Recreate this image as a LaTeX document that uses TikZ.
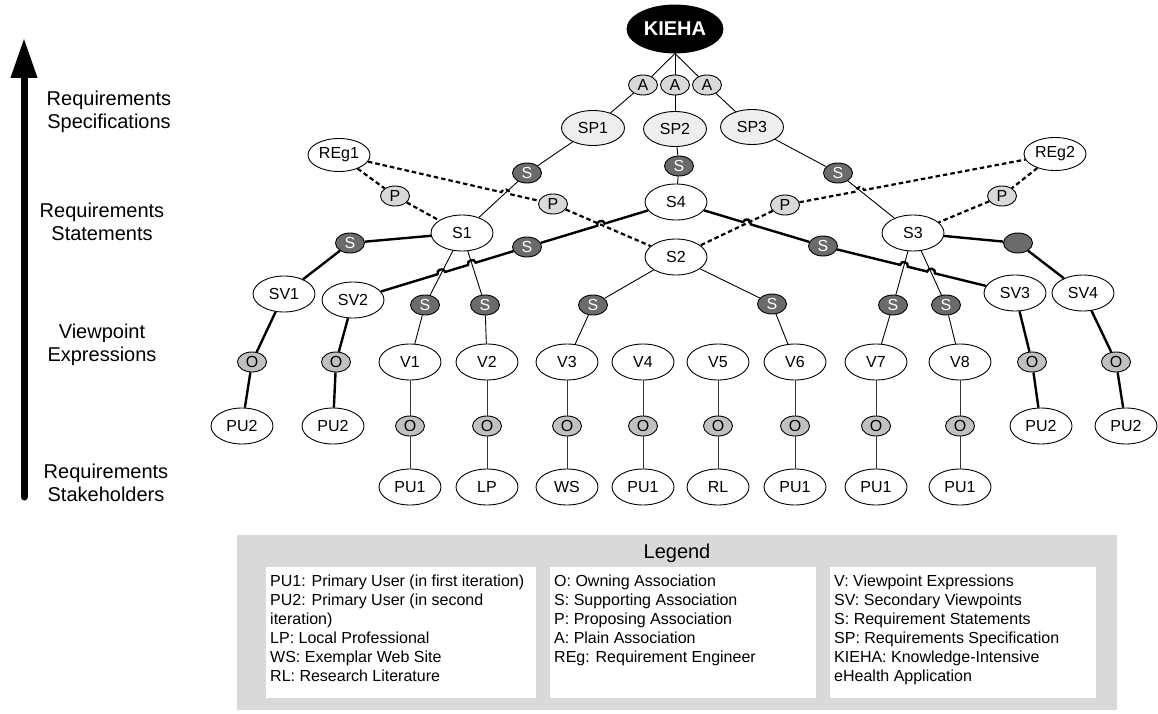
\documentclass[tikz,border=0pt]{standalone}
\usepackage{fontspec}
\setmainfont{Liberation Sans}
\usetikzlibrary{shapes.geometric,arrows.meta,calc}

\definecolor{spfill}{HTML}{EEEEEE}
\definecolor{lightassoc}{HTML}{D9D9D9}
\definecolor{ownfill}{HTML}{C0C0C0}
\definecolor{supfill}{HTML}{6B6B6B}
\definecolor{legendgray}{HTML}{D9D9D9}

\begin{document}
\begin{tikzpicture}[x=1pt,y=-1pt,
  every node/.style={font=\fontsize{16}{19}\selectfont},
  ent/.style={ellipse, draw, line width=0.9pt, fill=white, minimum width=62pt, minimum height=36pt, inner sep=0pt},
  spec/.style={ent, fill=spfill, minimum width=63pt, minimum height=35pt},
  eng/.style={ent, minimum height=33pt},
  small/.style={ellipse, draw, line width=0.9pt, minimum width=29pt, minimum height=20pt, inner sep=0pt},
  plain/.style={small, fill=lightassoc},
  own/.style={small, fill=ownfill},
  supp/.style={small, fill=supfill, text=white},
  thinline/.style={line width=0.9pt},
  thickline/.style={line width=2.4pt},
  propline/.style={line width=2.2pt, dash pattern=on 4.5pt off 3pt},
  ownline/.style={line width=0.9pt, black!80},
  hop/.style={bend left=90, looseness=1.6},
  sidelabel/.style={align=center, font=\fontsize{20}{23}\selectfont, inner sep=0pt},
  legtext/.style={align=left, anchor=north west, inner sep=0pt, font=\fontsize{16}{19}\selectfont},
  legbox/.style={fill=white, anchor=north west, minimum height=131pt, inner sep=0pt},
]
\useasboundingbox (0,0) rectangle (1158,714);

% ---------- level axis ----------
\coordinate (axisbottom) at (24,497);
\coordinate (axistop) at (24,38);
\draw[line width=7pt, line cap=round, -{Triangle[width=25pt,length=40pt]}] (axisbottom) -- (axistop);
\node[sidelabel] (lblspec) at (109,112) {Requirements\\Specifications};
\node[sidelabel] (lblstat) at (102,222) {Requirements\\Statements};
\node[sidelabel] (lblview) at (102,345) {Viewpoint\\Expressions};
\node[sidelabel] (lblstake) at (106,483) {Requirements\\Stakeholders};

% ---------- top: application and specifications ----------
\node[ent, fill=black, text=white, font=\bfseries\fontsize{20}{24}\selectfont,
      minimum width=96pt, minimum height=48pt] (KIEHA) at (675,29) {KIEHA};
\node[plain] (A1) at (643,85) {A};
\node[plain] (A2) at (675,85) {A};
\node[plain] (A3) at (707,85) {A};
\node[spec] (SP1) at (593,128) {SP1};
\node[spec] (SP2) at (675,129) {SP2};
\node[spec] (SP3) at (752,127) {SP3};

% ---------- requirement engineers and statements ----------
\node[eng] (REg1) at (339,155) {REg1};
\node[eng] (REg2) at (1055,154) {REg2};
\node[supp] (Sa) at (527,173) {S};
\node[supp] (Sb) at (679,166) {S};
\node[supp] (Sc) at (838,173) {S};
\node[plain] (Pa) at (395,196) {P};
\node[plain] (Pb) at (553,204) {P};
\node[plain] (Pc) at (785,205) {P};
\node[plain] (Pd) at (1002,196) {P};
\node[ent] (S4) at (676,202) {S4};
\node[ent] (S1) at (462,233) {S1};
\node[ent] (S3) at (913,233) {S3};
\node[ent] (S2) at (676,257) {S2};
\node[supp] (Sd) at (350,243) {S};
\node[supp] (Se) at (527,247) {S};
\node[supp] (Sf) at (823,246) {S};
\node[supp] (Sg) at (1018,243) {};

% ---------- secondary viewpoints ----------
\node[ent] (SV1) at (284,294) {SV1};
\node[ent] (SV2) at (353,300) {SV2};
\node[ent] (SV3) at (1015,293) {SV3};
\node[ent] (SV4) at (1083,293) {SV4};
\node[own] (Os1) at (252,362) {O};
\node[own] (Os2) at (336,362) {O};
\node[own] (Os3) at (1032,362) {O};
\node[own] (Os4) at (1116,362) {O};
\node[ent] (P2a) at (242,426) {PU2};
\node[ent] (P2b) at (333,426) {PU2};
\node[ent] (P2c) at (1041,426) {PU2};
\node[ent] (P2d) at (1126,426) {PU2};

% ---------- viewpoint expressions ----------
\node[supp] (Sv1) at (425,305) {S};
\node[supp] (Sv2) at (485,305) {S};
\node[supp] (Sv3) at (593,305) {S};
\node[supp] (Sv6) at (772,304) {S};
\node[supp] (Sv7) at (893,305) {S};
\node[supp] (Sv8) at (946,305) {S};
\foreach \n/\x/\t in {1/410/PU1, 2/487/LP, 3/567/WS, 4/643/PU1, 5/718/RL, 6/795/PU1, 7/876/PU1, 8/960/PU1} {
  \node[ent] (V\n) at (\x,362) {V\n};
  \node[own] (Ov\n) at (\x,426) {O};
  \node[ent] (B\n) at (\x,487) {\t};
  \draw[ownline] (V\n) -- (Ov\n) -- (B\n);
}

% ---------- line crossings ----------
\coordinate (hA) at (intersection of REg1--Pb and Sa--S1);
\coordinate (hB) at (intersection of Se--S4 and Pb--S2);
\coordinate (hC) at (intersection of SV2--Se and S1--Sv1);
\coordinate (hD) at (intersection of SV2--Se and S1--Sv2);
\coordinate (hE) at (intersection of S4--Sf and Pc--S2);
\coordinate (hF) at (intersection of Sf--SV3 and S3--Sv7);
\coordinate (hG) at (intersection of Sf--SV3 and S3--Sv8);
\coordinate (hH) at (intersection of Pc--REg2 and Sc--S3);

% ---------- plain and supporting associations (thin) ----------
\draw[thinline] (KIEHA.south) -- (A1) -- (SP1);
\draw[thinline] (KIEHA.south) -- (A2) -- (SP2);
\draw[thinline] (KIEHA.south) -- (A3) -- (SP3);
\draw[thinline] (SP1) -- (Sa) -- (S1);
\draw[thinline] (SP2) -- (Sb) -- (S4);
\draw[thinline] (SP3) -- (Sc) -- (S3);
\draw[thinline] (S1) -- (Sv1) -- (V1);
\draw[thinline] (S1) -- (Sv2) -- (V2);
\draw[thinline] (S2) -- (Sv3) -- (V3);
\draw[thinline] (S2) -- (Sv6) -- (V6);
\draw[thinline] (S3) -- (Sv7) -- (V7);
\draw[thinline] (S3) -- (Sv8) -- (V8);

% ---------- proposing associations (dashed) ----------
\draw[propline] (REg1) -- (Pa) -- (S1);
\draw[propline] (REg1) -- ($(hA)!4pt!(REg1)$) to[hop] ($(hA)!4pt!(Pb)$) -- (Pb);
\draw[propline] (Pb) -- (S2);
\draw[propline] (REg2) -- (Pd) -- (S3);
\draw[propline] (Pc) -- ($(hH)!4pt!(Pc)$) to[hop] ($(hH)!4pt!(REg2)$) -- (REg2);
\draw[propline] (Pc) -- (S2);

% ---------- secondary viewpoint links (thick) ----------
\draw[thickline] (S1) -- (Sd) -- (SV1);
\draw[thickline] (SV2) -- ($(hC)!4pt!(SV2)$) to[hop] ($(hC)!4pt!(Se)$)
   -- ($(hD)!4pt!(SV2)$) to[hop] ($(hD)!4pt!(Se)$) -- (Se);
\draw[thickline] (Se) -- ($(hB)!4pt!(Se)$) to[hop] ($(hB)!4pt!(S4)$) -- (S4);
\draw[thickline] (S4) -- ($(hE)!4pt!(S4)$) to[hop] ($(hE)!4pt!(Sf)$) -- (Sf);
\draw[thickline] (Sf) -- ($(hF)!4pt!(Sf)$) to[hop] ($(hF)!4pt!(SV3)$)
   -- ($(hG)!4pt!(Sf)$) to[hop] ($(hG)!4pt!(SV3)$) -- (SV3);
\draw[thickline] (S3) -- (Sg) -- (SV4);
\draw[thickline] (SV1) -- (Os1) -- (P2a);
\draw[thickline] (SV2) -- (Os2) -- (P2b);
\draw[thickline] (SV3) -- (Os3) -- (P2c);
\draw[thickline] (SV4) -- (Os4) -- (P2d);

% ---------- legend ----------
\node[fill=legendgray, anchor=north west, minimum width=880pt, minimum height=175pt, inner sep=0pt] (legend) at (237,535) {};
\node[font=\fontsize{20}{24}\selectfont] (legtitle) at (677,553) {Legend};
\node[legbox, minimum width=270pt] (legbox1) at (266,567) {};
\node[legbox, minimum width=266pt] (legbox2) at (550,567) {};
\node[legbox, minimum width=266pt] (legbox3) at (830,567) {};
\node[legtext] (legtext1) at (270,575) {PU1: Primary User (in first iteration)\\PU2: Primary User (in second\\iteration)\\LP: Local Professional\\WS: Exemplar Web Site\\RL: Research Literature};
\node[legtext] (legtext2) at (554,575) {O: Owning Association\\S: Supporting Association\\P: Proposing Association\\A: Plain Association\\REg: Requirement Engineer};
\node[legtext] (legtext3) at (834,575) {V: Viewpoint Expressions\\SV: Secondary Viewpoints\\S: Requirement Statements\\SP: Requirements Specification\\KIEHA: Knowledge-Intensive\\eHealth Application};
\end{tikzpicture}
\end{document}
